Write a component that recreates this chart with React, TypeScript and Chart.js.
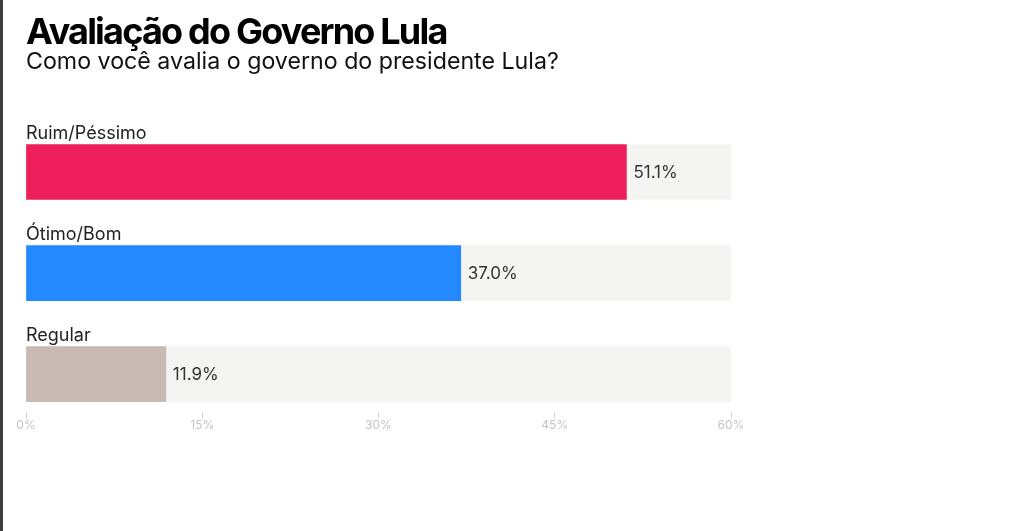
import { useEffect, useRef } from "react"
import { Chart, registerables } from "chart.js"

Chart.register(...registerables)

// poll data
const categories = ["Ruim/Péssimo", "Ótimo/Bom", "Regular"]
const values = [51.1, 37.0, 11.9]
const xTickValues = [0, 15, 30, 45, 60]
const axisMax = 60

const barColors = ["#ED1E5B", "#2488FF", "#C6BAB2"]
const trackColor = "#F4F4F2"

// draws the category name above each bar and the value to the right of it
const barLabels = {
  id: "barLabels",
  afterDatasetsDraw(chart: Chart) {
    const { ctx } = chart
    const xScale = chart.scales.x
    const yScale = chart.scales.y
    ctx.save()
    categories.forEach((name, i) => {
      const yc = yScale.getPixelForValue(i)
      ctx.font = "18px Inter, sans-serif"
      ctx.fillStyle = "#222"
      ctx.textAlign = "left"
      ctx.textBaseline = "alphabetic"
      ctx.fillText(name, xScale.getPixelForValue(0), yc - 33)

      ctx.font = "17px Inter, sans-serif"
      ctx.fillStyle = "#333"
      ctx.textBaseline = "middle"
      ctx.fillText(values[i].toFixed(1) + "%", xScale.getPixelForValue(values[i]) + 7, yc + 1)
    })
    ctx.restore()
  },
}

const BarChart = () => {
  const canvasRef = useRef<HTMLCanvasElement>(null)

  useEffect(() => {
    if (!canvasRef.current) return
    const chart = new Chart(canvasRef.current, {
      type: "bar",
      data: {
        datasets: [
          {
            data: values.map((v, i) => ({ x: v, y: i })),
            backgroundColor: barColors,
            barThickness: 55,
            grouped: false,
            order: 1,
          },
          {
            data: categories.map((_, i) => ({ x: axisMax, y: i })),
            backgroundColor: trackColor,
            barThickness: 55,
            grouped: false,
            order: 2,
          },
        ],
      },
      options: {
        indexAxis: "y",
        responsive: true,
        maintainAspectRatio: false,
        animation: false,
        layout: { padding: { left: 26, right: 293, top: 121.5, bottom: 98 } },
        plugins: {
          legend: { display: false },
          tooltip: { enabled: false },
        },
        scales: {
          y: {
            type: "linear",
            reverse: true,
            offset: false,
            grid: { offset: false },
            min: -0.5,
            max: 2.37,
            display: false,
          },
          x: {
            type: "linear",
            min: 0,
            max: axisMax,
            afterBuildTicks: (scale) => {
              scale.ticks = xTickValues.map((v) => ({ value: v }))
            },
            ticks: {
              callback: (v) => v + "%",
              color: "#C4C4C4",
              padding: 0,
              font: { family: "'Liberation Sans Narrow', Inter, sans-serif", size: 12 },
            },
            grid: {
              drawOnChartArea: false,
              drawTicks: true,
              tickLength: 7,
              color: "#D6D6D6",
            },
            border: { display: false },
          },
        },
      },
      plugins: [barLabels],
    })
    return () => chart.destroy()
  }, [])

  return <canvas ref={canvasRef} />
}

export default function App() {
  return (
    <div
      style={{
        position: "fixed",
        left: 0,
        top: 0,
        width: 1024,
        height: 531,
        background: "#fff",
        fontFamily: "Inter, sans-serif",
        overflow: "hidden",
      }}
    >
      <div style={{ position: "absolute", inset: 0 }}>
        <BarChart />
      </div>
      <div style={{ position: "absolute", left: 0, top: 0, width: 3, height: 531, background: "#3D3D3D" }} />
      <div
        style={{
          position: "absolute",
          left: 26,
          top: 13,
          fontSize: 36,
          lineHeight: 1,
          fontWeight: 700,
          letterSpacing: -1.8,
          color: "#000",
          whiteSpace: "nowrap",
        }}
      >
        Avaliação do Governo Lula
      </div>
      <div
        style={{
          position: "absolute",
          left: 26,
          top: 49.5,
          fontSize: 23.2,
          lineHeight: 1,
          color: "#111",
          whiteSpace: "nowrap",
        }}
      >
        Como você avalia o governo do presidente Lula?
      </div>
    </div>
  )
}
